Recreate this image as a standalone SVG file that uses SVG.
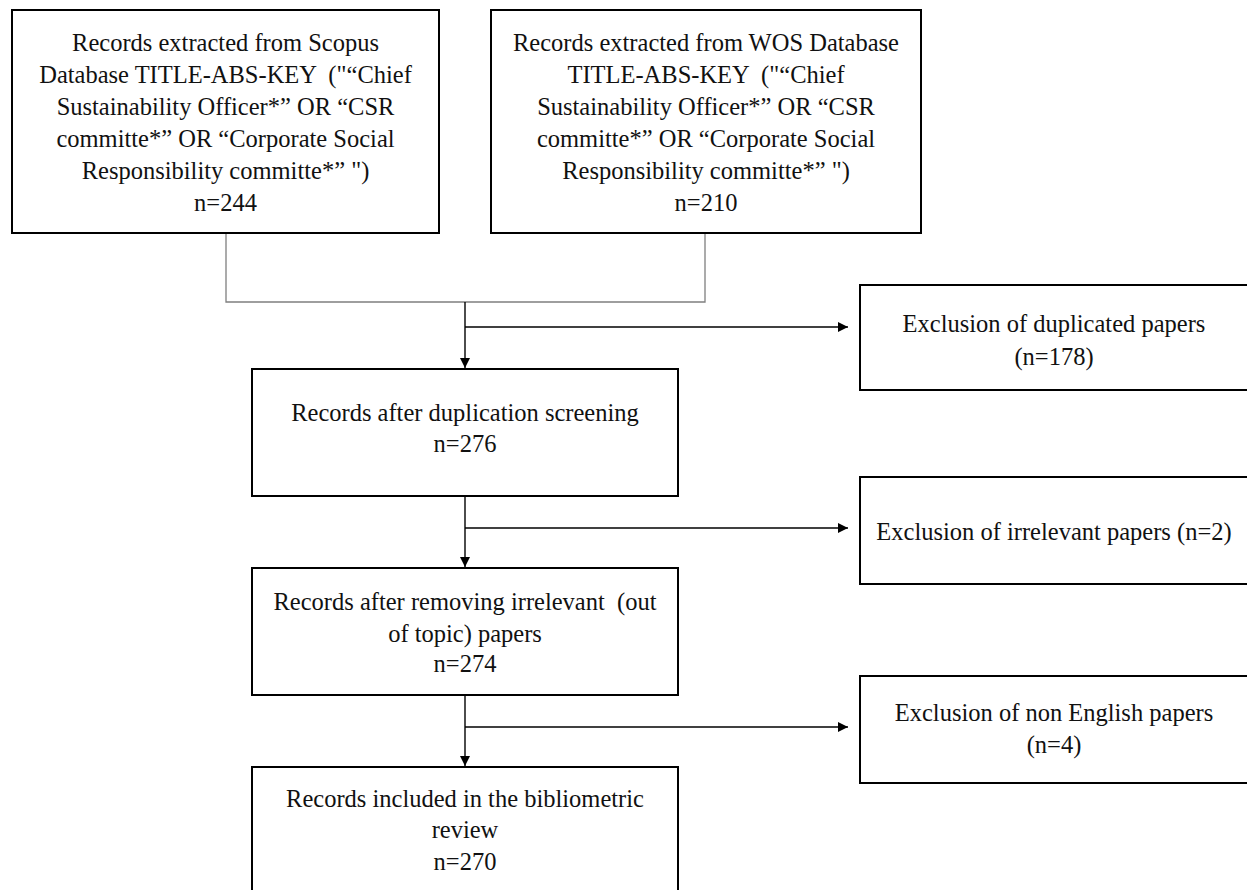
<svg xmlns="http://www.w3.org/2000/svg" width="1247" height="890" viewBox="0 0 1247 890">
<style>
.box{fill:#fff;stroke:#000;stroke-width:2}
text{font-family:"Liberation Serif","Times New Roman",serif;font-size:24.5px;fill:#111;text-anchor:middle;white-space:pre}
.gray{stroke:#7f7f7f;stroke-width:1.3;fill:none}
.ln{stroke:#000;stroke-width:1.4;fill:none}
</style>
<defs>
<marker id="arr" viewBox="0 0 10 10" refX="10" refY="5" markerWidth="10" markerHeight="10" markerUnits="userSpaceOnUse" orient="auto">
<path d="M0,0 L10,5 L0,10 Z" fill="#000"/>
</marker>
</defs>
<rect width="1247" height="890" fill="#fff"/>
<g id="connectors">
<path class="gray" d="M226,233 V302 H705 V233"/>
<path class="ln" d="M465,302 V368" marker-end="url(#arr)"/>
<path class="ln" d="M465,327 H848" marker-end="url(#arr)"/>
<path class="ln" d="M465,496 V567" marker-end="url(#arr)"/>
<path class="ln" d="M465,528 H848" marker-end="url(#arr)"/>
<path class="ln" d="M465,695 V766" marker-end="url(#arr)"/>
<path class="ln" d="M465,727 H848" marker-end="url(#arr)"/>
</g>
<g id="scopus">
<rect class="box" x="12" y="10" width="427" height="223"/>
<text x="225.5" y="51">Records extracted from Scopus</text>
<text x="225.5" y="83">Database TITLE-ABS-KEY  ("“Chief</text>
<text x="225.5" y="115">Sustainability Officer*” OR “CSR</text>
<text x="225.5" y="147">committe*” OR “Corporate Social</text>
<text x="225.5" y="179">Responsibility committe*” ")</text>
<text x="225.5" y="211">n=244</text>
</g>
<g id="wos">
<rect class="box" x="491" y="10" width="430" height="223"/>
<text x="706" y="51">Records extracted from WOS Database</text>
<text x="706" y="83">TITLE-ABS-KEY  ("“Chief</text>
<text x="706" y="115">Sustainability Officer*” OR “CSR</text>
<text x="706" y="147">committe*” OR “Corporate Social</text>
<text x="706" y="179">Responsibility committe*” ")</text>
<text x="706" y="211">n=210</text>
</g>
<g id="dup-excl">
<rect class="box" x="860" y="285" width="390" height="105"/>
<text x="1054" y="332">Exclusion of duplicated papers</text>
<text x="1054" y="365">(n=178)</text>
</g>
<g id="after-dup">
<rect class="box" x="252" y="369" width="426" height="127"/>
<text x="465" y="421">Records after duplication screening</text>
<text x="465" y="452">n=276</text>
</g>
<g id="irr-excl">
<rect class="box" x="860" y="477" width="390" height="107"/>
<text x="1054" y="540">Exclusion of irrelevant papers (n=2)</text>
</g>
<g id="after-irr">
<rect class="box" x="252" y="568" width="426" height="127"/>
<text x="465" y="610">Records after removing irrelevant  (out</text>
<text x="465" y="642">of topic) papers</text>
<text x="465" y="672">n=274</text>
</g>
<g id="lang-excl">
<rect class="box" x="860" y="676" width="390" height="107"/>
<text x="1054" y="721">Exclusion of non English papers</text>
<text x="1054" y="753">(n=4)</text>
</g>
<g id="included">
<rect class="box" x="252" y="767" width="426" height="130"/>
<text x="465" y="807">Records included in the bibliometric</text>
<text x="465" y="838">review</text>
<text x="465" y="870">n=270</text>
</g>
</svg>
